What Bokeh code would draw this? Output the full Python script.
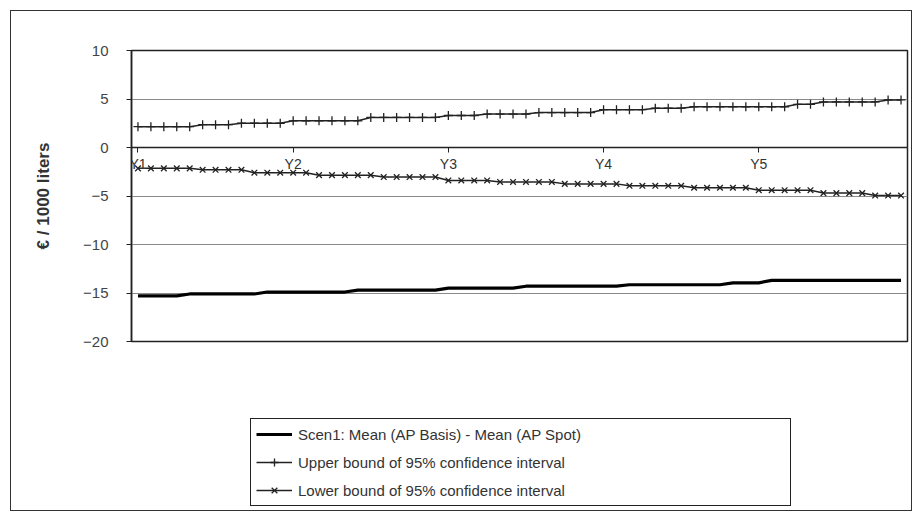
from bokeh.plotting import figure
from bokeh.models import Range1d, FixedTicker, Legend, LegendItem
from bokeh.layouts import column
from bokeh.embed import file_html
from bokeh.resources import INLINE

# ---- data ----
tick_labels = ["Y1", "Y2", "Y3", "Y4", "Y5"]
tick_positions = [0, 12, 24, 36, 48]

mean_diff = [-15.3, -15.3, -15.3, -15.3,
             -15.1, -15.1, -15.1, -15.1, -15.1, -15.1,
             -14.9, -14.9, -14.9, -14.9, -14.9, -14.9, -14.9,
             -14.7, -14.7, -14.7, -14.7, -14.7, -14.7, -14.7,
             -14.5, -14.5, -14.5, -14.5, -14.5, -14.5,
             -14.3, -14.3, -14.3, -14.3, -14.3, -14.3, -14.3, -14.3,
             -14.15, -14.15, -14.15, -14.15, -14.15, -14.15, -14.15, -14.15,
             -13.95, -13.95, -13.95,
             -13.7, -13.7, -13.7, -13.7, -13.7, -13.7, -13.7, -13.7, -13.7, -13.7, -13.7]

upper = [2.15, 2.15, 2.15, 2.15, 2.15,
         2.35, 2.35, 2.35,
         2.5, 2.5, 2.5, 2.5,
         2.75, 2.75, 2.75, 2.75, 2.75, 2.75,
         3.1, 3.1, 3.1, 3.1, 3.1, 3.1,
         3.3, 3.3, 3.3,
         3.45, 3.45, 3.45, 3.45,
         3.6, 3.6, 3.6, 3.6, 3.6,
         3.9, 3.9, 3.9, 3.9,
         4.05, 4.05, 4.05,
         4.2, 4.2, 4.2, 4.2, 4.2, 4.2, 4.2, 4.2,
         4.45, 4.45,
         4.7, 4.7, 4.7, 4.7, 4.7,
         4.9, 4.9]

lower = [-2.15, -2.15, -2.15, -2.15, -2.15,
         -2.3, -2.3, -2.3, -2.3,
         -2.6, -2.6, -2.6, -2.6, -2.6,
         -2.85, -2.85, -2.85, -2.85, -2.85,
         -3.05, -3.05, -3.05, -3.05, -3.05,
         -3.4, -3.4, -3.4, -3.4,
         -3.55, -3.55, -3.55, -3.55, -3.55,
         -3.75, -3.75, -3.75, -3.75, -3.75,
         -3.95, -3.95, -3.95, -3.95, -3.95,
         -4.15, -4.15, -4.15, -4.15, -4.15,
         -4.4, -4.4, -4.4, -4.4, -4.4,
         -4.7, -4.7, -4.7, -4.7,
         -4.95, -4.95, -4.95]

y_ticks = [-20, -15, -10, -5, 0, 5, 10]

series_labels = ["Scen1: Mean (AP Basis) - Mean (AP Spot)",
                 "Upper bound of 95% confidence interval",
                 "Lower bound of 95% confidence interval"]

x = list(range(len(mean_diff)))

FONT = "Liberation Sans"
INK = "#222222"
W = 900
LEFT = 120

p = figure(width=W, height=356, output_backend="svg", toolbar_location=None,
           x_range=Range1d(-0.5, len(x) - 0.5), y_range=Range1d(-20, 10),
           min_border_left=LEFT, min_border_top=39, min_border_bottom=26,
           min_border_right=4)
p.background_fill_color = "white"
p.border_fill_color = "white"
p.outline_line_color = INK
p.outline_line_width = 1.5

# grid
p.xgrid.visible = False
p.ygrid.ticker = FixedTicker(ticks=y_ticks)
p.ygrid.grid_line_color = "#8a8a8a"
p.ygrid.grid_line_width = 1

# y axis
p.yaxis.ticker = FixedTicker(ticks=y_ticks)
p.yaxis.axis_line_color = INK
p.yaxis.axis_line_width = 1.5
p.yaxis.major_tick_in = 0
p.yaxis.major_tick_out = 5
p.yaxis.major_tick_line_color = INK
p.yaxis.minor_tick_line_color = None
p.yaxis.major_label_standoff = 18
p.yaxis.major_label_text_font = FONT
p.yaxis.major_label_text_font_size = "15px"
p.yaxis.major_label_text_color = "#444444"
p.yaxis.axis_label = "€ / 1000 liters"
p.yaxis.axis_label_text_font = FONT
p.yaxis.axis_label_text_font_style = "bold"
p.yaxis.axis_label_text_font_size = "17px"
p.yaxis.axis_label_text_color = "#333333"
p.yaxis.axis_label_standoff = 27

# x axis crossing at 0
p.xaxis.fixed_location = 0
p.xaxis.ticker = FixedTicker(ticks=tick_positions)
p.xaxis.major_label_overrides = {t: lab for t, lab in zip(tick_positions, tick_labels)}
p.xaxis.axis_line_color = INK
p.xaxis.axis_line_width = 1.5
p.xaxis.major_tick_in = 0
p.xaxis.major_tick_out = 5
p.xaxis.major_tick_line_color = INK
p.xaxis.minor_tick_line_color = None
p.xaxis.major_label_standoff = 3
p.xaxis.major_label_text_font = FONT
p.xaxis.major_label_text_font_size = "14px"
p.xaxis.major_label_text_color = "#333333"

# series
r_mean = p.line(x, mean_diff, line_color="black", line_width=3.2)
r_up_l = p.line(x, upper, line_color=INK, line_width=1.5)
r_up_m = p.scatter(x, upper, marker="cross", size=9, line_color=INK, line_width=1.3)
r_lo_l = p.line(x, lower, line_color=INK, line_width=1.5)
r_lo_m = p.scatter(x, lower, marker="x", size=8, line_color=INK, line_width=1.3)

# legend panel (separate figure below the chart, no axes)
lg = figure(width=W, height=143, output_backend="svg", toolbar_location=None,
            x_range=Range1d(0, 1), y_range=Range1d(0, 1),
            x_axis_location=None, y_axis_location=None,
            min_border_left=LEFT, min_border_right=4,
            min_border_top=0, min_border_bottom=0)
lg.grid.visible = False
lg.outline_line_color = None
lg.background_fill_color = "white"
lg.border_fill_color = "white"
nan = float("nan")
l_mean = lg.line([nan], [nan], line_color="black", line_width=3.2)
l_up_l = lg.line([nan], [nan], line_color=INK, line_width=1.5)
l_up_m = lg.scatter([nan], [nan], marker="cross", size=9, line_color=INK, line_width=1.3)
l_lo_l = lg.line([nan], [nan], line_color=INK, line_width=1.5)
l_lo_m = lg.scatter([nan], [nan], marker="x", size=8, line_color=INK, line_width=1.3)

legend = Legend(items=[
    LegendItem(label=series_labels[0], renderers=[l_mean]),
    LegendItem(label=series_labels[1], renderers=[l_up_l, l_up_m]),
    LegendItem(label=series_labels[2], renderers=[l_lo_l, l_lo_m]),
], location=(119, 4))
legend.border_line_color = INK
legend.border_line_width = 1.5
legend.border_line_alpha = 1
legend.background_fill_color = "white"
legend.background_fill_alpha = 1
legend.label_text_font = FONT
legend.label_text_font_size = "15px"
legend.label_text_color = "#333333"
legend.glyph_width = 36
legend.glyph_height = 20
legend.label_height = 20
legend.label_width = 487
legend.label_standoff = 6
legend.spacing = 8
legend.padding = 5
legend.margin = 0
lg.add_layout(legend, "center")

layout = column(p, lg, spacing=0)
layout.margin = (10, 0, 0, 10)
layout.styles = {"border": "1px solid #333333", "background-color": "white"}

open("out.html", "w").write(file_html(layout, INLINE))
